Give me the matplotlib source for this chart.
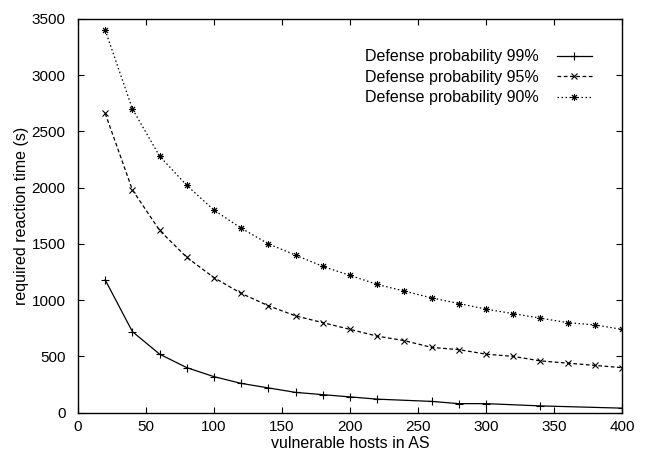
import matplotlib
matplotlib.use("Agg")
import matplotlib.pyplot as plt

# Data (gnuplot style figure)
hosts = [20, 40, 60, 80, 100, 120, 140, 160, 180, 200, 220, 240, 260, 280,
         300, 320, 340, 360, 380, 400]
hosts_99 = [20, 40, 60, 80, 100, 120, 140, 160, 180, 200, 220, 260, 280,
            300, 340, 400]
time_99 = [1180, 720, 520, 400, 320, 260, 220, 180, 160, 140, 120, 100, 80,
           80, 60, 40]
time_95 = [2660, 1980, 1620, 1380, 1200, 1060, 950, 860, 800, 740, 680, 640,
           580, 560, 520, 500, 460, 440, 420, 400]
time_90 = [3400, 2700, 2280, 2020, 1800, 1640, 1500, 1400, 1300, 1220, 1140,
           1080, 1020, 970, 920, 880, 840, 800, 780, 740]
labels = ["Defense probability 99%", "Defense probability 95%",
          "Defense probability 90%"]

plt.rcParams["font.family"] = ["Liberation Sans", "DejaVu Sans"]
plt.rcParams["font.size"] = 11.5

fig = plt.figure(figsize=(6.5, 4.5), dpi=100)
ax = fig.add_axes([0.12, 0.083, 0.837, 0.875])

lw = 0.9
ax.plot(hosts_99, time_99, color="black", lw=lw, ls="-", marker="+",
        ms=5.5, mew=0.8, label=labels[0])
ax.plot(hosts, time_95, color="black", lw=lw, ls=(0, (3, 2)), marker="x",
        ms=4.5, mew=0.8, label=labels[1])
ax.plot(hosts, time_90, color="black", lw=lw, ls=(0, (1.2, 2)),
        marker=(8, 2, 0), ms=5, mew=0.7, label=labels[2])

ax.set_xlim(0, 400)
ax.set_ylim(0, 3500)
ax.set_xticks(range(0, 401, 50))
ax.set_yticks(range(0, 3501, 500))
ax.tick_params(direction="in", top=True, right=True, length=4, width=0.8,
               labelsize=11)
ax.tick_params(axis="x", pad=5)
ax.tick_params(axis="y", pad=9)
for s in ax.spines.values():
    s.set_linewidth(1.0)

ax.set_xlabel("vulnerable hosts in AS", labelpad=2)
ax.set_ylabel("required reaction time (s)", labelpad=2)

ax.legend(loc="upper right", frameon=False, markerfirst=False,
          handlelength=2.2, handletextpad=1.1, labelspacing=0.35,
          borderaxespad=1.5, fontsize=11.5)

fig.savefig("out.png", dpi=100)
